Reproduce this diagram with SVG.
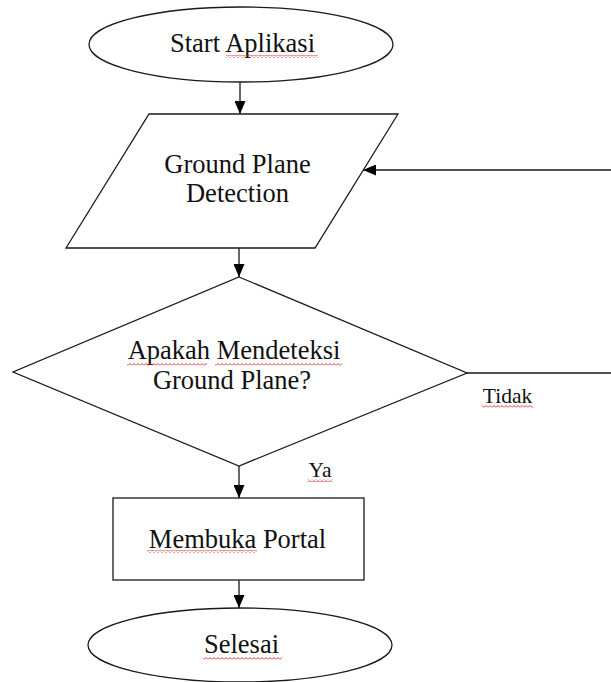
<svg xmlns="http://www.w3.org/2000/svg" width="611" height="682" viewBox="0 0 611 682">
<style>
.shape{fill:#fff;stroke:#1a1a1a;stroke-width:1.3}
.conn{fill:none;stroke:#1a1a1a;stroke-width:1.3}
.t{font-family:"Liberation Serif","Times New Roman",serif;font-size:26.5px;fill:#111;text-anchor:middle}
.lbl{font-family:"Liberation Serif","Times New Roman",serif;font-size:21.5px;fill:#111;text-anchor:middle}
.sq{fill:url(#wavy)}
</style>
<defs>
<marker id="arr" markerUnits="userSpaceOnUse" markerWidth="13" markerHeight="11" refX="13" refY="5.5" orient="auto">
<path d="M0,0 L13,5.5 L0,11 z" fill="#000"/>
</marker>
<pattern id="wavy" patternUnits="userSpaceOnUse" width="4" height="3">
<path d="M0,2.5 L2,0.5 L4,2.5" fill="none" stroke="#e02020" stroke-width="0.9"/>
</pattern>
</defs>
<g id="connectors">
<line class="conn" x1="240" y1="82" x2="240" y2="114" marker-end="url(#arr)"/>
<line class="conn" x1="239" y1="248" x2="239" y2="277" marker-end="url(#arr)"/>
<line class="conn" x1="239" y1="466" x2="239" y2="498" marker-end="url(#arr)"/>
<line class="conn" x1="239" y1="580" x2="239" y2="608" marker-end="url(#arr)"/>
<path class="conn" d="M467,373 L613,373 L613,170 L363,170" marker-end="url(#arr)"/>
<text class="lbl" x="507.5" y="403">Tidak</text>
<rect class="sq" x="482" y="405" width="51" height="3"/>
<text class="lbl" x="320" y="477">Ya</text>
<rect class="sq" x="307" y="479" width="26" height="3"/>
</g>
<g id="start">
<ellipse class="shape" cx="241" cy="44.5" rx="152" ry="37.5"/>
<text class="t" x="242.5" y="52">Start Aplikasi</text>
<rect class="sq" x="226" y="55" width="92" height="3"/>
</g>
<g id="detection">
<polygon class="shape" points="149,114 398,114 315,248 66,248"/>
<text class="t" x="237.5" y="172.5">Ground Plane</text>
<text class="t" x="237.5" y="201.5">Detection</text>
</g>
<g id="decision">
<polygon class="shape" points="239,277 467,373 239,466 13,372"/>
<text class="t" x="234" y="359">Apakah Mendeteksi</text>
<text class="t" x="232" y="389">Ground Plane?</text>
<rect class="sq" x="127" y="363" width="80" height="3"/>
<rect class="sq" x="215" y="363" width="127" height="3"/>
</g>
<g id="portal">
<rect class="shape" x="113" y="498" width="251" height="82"/>
<text class="t" x="237.5" y="548">Membuka Portal</text>
<rect class="sq" x="147" y="550" width="110" height="3"/>
</g>
<g id="end">
<ellipse class="shape" cx="240" cy="645" rx="152" ry="37"/>
<text class="t" x="241.5" y="653">Selesai</text>
<rect class="sq" x="203" y="657" width="79" height="3"/>
</g>
</svg>
